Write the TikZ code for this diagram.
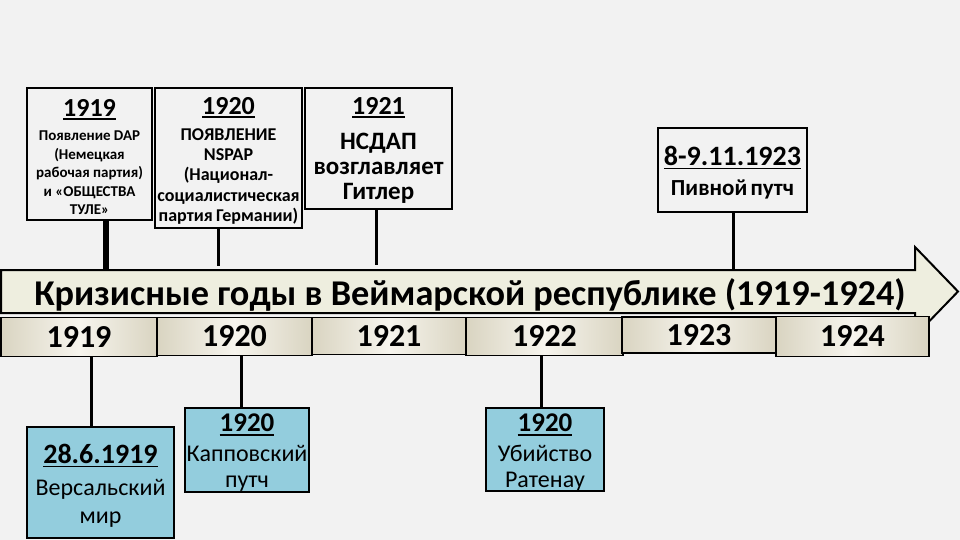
\documentclass[tikz,border=0pt]{standalone}
\usepackage{fontspec}
\setmainfont{Carlito}
\usetikzlibrary{positioning}
\definecolor{slide}{HTML}{F2F2F2}
\definecolor{bandfill}{HTML}{EEEEDF}
\definecolor{yearedge}{HTML}{D9D4C1}
\definecolor{yearmid}{HTML}{F7F5EE}
\definecolor{eventfill}{HTML}{93CDDD}
\newcommand{\fs}[2]{\fontsize{#1}{#2}\selectfont}
\newcommand{\uln}[1]{\setbox0\hbox{#1}\rlap{\vrule height -2pt depth 3.6pt width \wd0}\box0}
\tikzset{
  frame/.style={draw, line width=2pt, inner sep=0pt},
  topbox/.style={frame, fill=slide},
  eventbox/.style={frame, fill=eventfill},
  yearbox/.style={draw, line width=1.6pt, inner sep=0pt,
    left color=yearedge, right color=yearedge, middle color=yearmid,
    font=\fs{32}{34}\bfseries},
  caption/.style={inner sep=0pt, align=center},
  link/.style={line width=3pt},
}
\begin{document}
\begin{tikzpicture}[x=1pt,y=-1pt]
  \useasboundingbox[fill=slide] (0,0) rectangle (960,540);
  \draw[line width=2pt, fill=bandfill]
    (1,270) -- (915,270) -- (915,247) -- (958,291.5)
    -- (915,336) -- (915,313) -- (1,313) -- cycle;
  \node (title) [inner sep=0pt, anchor=base, font=\fs{36.3}{38}\bfseries] at (470,305)
    {Кризисные годы в Веймарской республике (1919-1924)};

  \node (y1919) [yearbox, minimum width=156pt, minimum height=39pt] at (79,337) {1919};
  \node (y1920) [yearbox, minimum width=155pt, minimum height=38pt] at (234.5,336.5) {1920};
  \node (y1921) [yearbox, minimum width=154pt, minimum height=37pt] at (389,336) {1921};
  \node (y1922) [yearbox, minimum width=157pt, minimum height=38pt] at (544.5,336.5) {1922};
  \node (y1923) [yearbox, minimum width=154pt, minimum height=36pt] at (699,335) {1923};
  \node (y1924) [yearbox, minimum width=153pt, minimum height=40pt] at (852.5,336.5) {1924};

  \node (b1919top) [topbox, minimum width=125pt, minimum height=132pt] at (89.5,154) {};
  \node (b1920top) [topbox, minimum width=147pt, minimum height=140pt] at (228.5,158) {};
  \node (b1921top) [topbox, minimum width=147pt, minimum height=121pt] at (378.5,148.5) {};
  \node (b1923top) [topbox, minimum width=149pt, minimum height=84pt] at (732.5,170) {};
  \node (e1919) [eventbox, minimum width=147pt, minimum height=111pt] at (100.5,482.5) {};
  \node (e1920) [eventbox, minimum width=124pt, minimum height=84pt] at (247,450) {};
  \node (e1922) [eventbox, minimum width=118pt, minimum height=83pt] at (545,449.5) {};

  \node (t1919top) [caption, text width=125pt, font=\bfseries, below=12pt of b1919top.north]
    {{\fs{26}{28}\uln{1919}\par}\vspace{6pt}\fs{15}{18.5}Появление DAP\\(Немецкая\\рабочая партия)\\и «ОБЩЕСТВА\\ТУЛЕ»\par};
  \node (t1920top) [caption, text width=147pt, font=\bfseries, below=10pt of b1920top.north]
    {{\fs{26}{28}\uln{1920}\par}\vspace{5.6pt}\fs{18}{20.3}ПОЯВЛЕНИЕ\\NSPAP\\(Национал-\\социалистическая\\партия Германии)\par};
  \node (t1921top) [caption, text width=147pt, font=\bfseries, below=10pt of b1921top.north]
    {{\fs{26}{28}\uln{1921}\par}\vspace{10.6pt}\fs{25}{25}НСДАП\\возглавляет\\Гитлер\par};
  \node (t1923top) [caption, text width=149pt, font=\bfseries, below=19pt of b1923top.north]
    {{\fs{28}{30}\uln{8-9.11.1923}\par}\vspace{8pt}\fs{23}{22}Пивной путч\par};
  \node (t1919) [caption, text width=147pt, below=18pt of e1919.north]
    {{\fs{28}{30}\bfseries\uln{28.6.1919}\par}\vspace{4pt}\fs{24}{28}Версальский\\мир\par};
  \node (t1920) [caption, text width=124pt, below=7pt of e1920.north]
    {{\fs{27}{29}\bfseries\uln{1920}\par}\vspace{4pt}\fs{24}{26}Капповский\\путч\par};
  \node (t1922) [caption, text width=118pt, below=7pt of e1922.north]
    {{\fs{27}{29}\bfseries\uln{1920}\par}\vspace{4pt}\fs{24}{26}Убийство\\Ратенау\par};

  \coordinate (j1919) at (106,270);
  \coordinate (j1920) at (218.5,266);
  \coordinate (j1921) at (376,265);
  \coordinate (j1923) at (733,270);
  \coordinate (k1919) at (91,427);
  \coordinate (k1920) at (241.5,408);
  \coordinate (k1922) at (541,408);
  \begin{scope}[link]
    \draw[line width=6pt] (j1919 |- b1919top.south) to (j1919);
    \draw (j1920 |- b1920top.south) to (j1920);
    \draw (j1921 |- b1921top.south) to (j1921);
    \draw (j1923 |- b1923top.south) to (j1923);
    \draw (k1919 |- y1919.south) to (k1919);
    \draw (k1920 |- y1920.south) to (k1920);
    \draw (k1922 |- y1922.south) to (k1922);
  \end{scope}
\end{tikzpicture}
\end{document}
